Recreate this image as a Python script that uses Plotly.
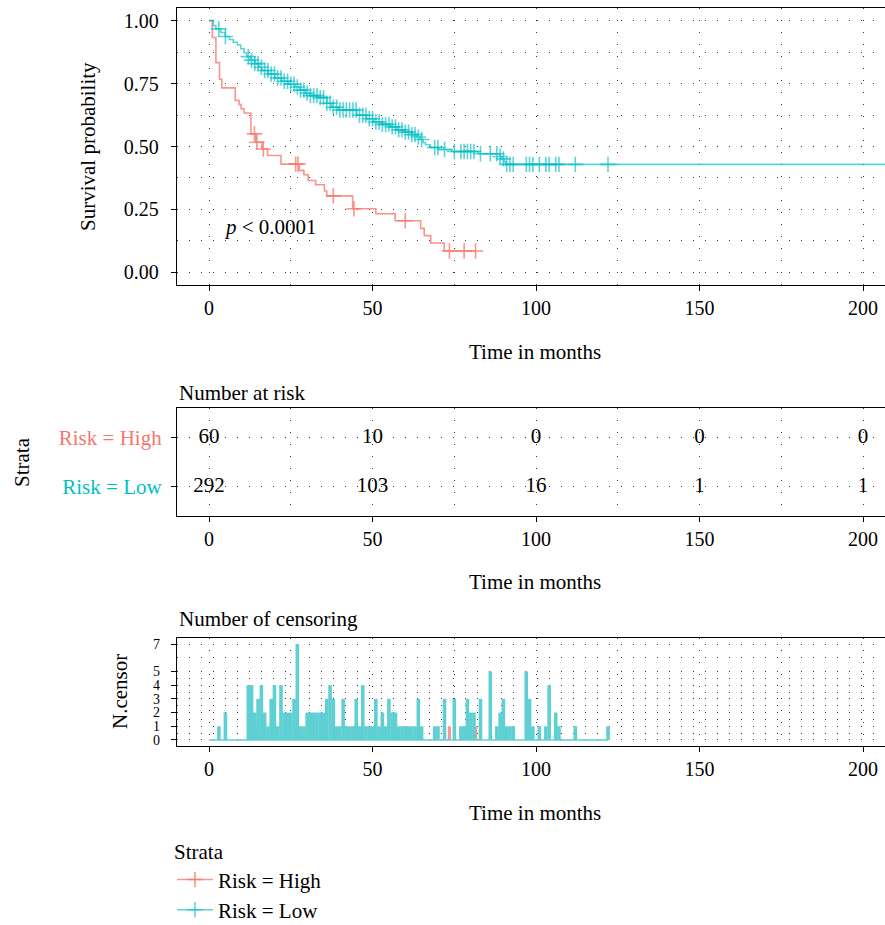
import plotly.graph_objects as go

# ---------------- data ----------------
RED = "#F8766D"
TEAL = "#00BFC4"
RED_A = "rgba(248,118,109,0.78)"
TEAL_A = "rgba(0,191,196,0.65)"
RED_BAR = "#F9968F"
TEAL_BAR = "#5ECFD2"

# Kaplan-Meier steps, Risk = High
high_step_time = [0, 1.0, 2.1, 3.2, 3.9, 8.0, 9.2, 9.8, 10.7, 12.8, 14.3, 16.2, 17.9, 22.0,
                  27.6, 29.0, 30.3, 32.6, 35.3, 36.0, 43.9, 51.0, 56.9, 64.7, 65.8, 67.8, 71.9]
high_step_surv = [1.0, 0.933, 0.833, 0.767, 0.733, 0.683, 0.667, 0.650, 0.633, 0.550, 0.517, 0.490,
                  0.464, 0.430, 0.405, 0.388, 0.365, 0.348, 0.323, 0.304, 0.253, 0.233, 0.205,
                  0.175, 0.146, 0.117, 0.085]
high_censor_time = [13.9, 14.6, 16.6, 26.5, 27.2, 38.0, 44.3, 60.0, 73.5, 78.0, 81.5]
high_censor_count = [1, 1, 1, 1, 1, 1, 1, 1, 1, 1, 1]

# Kaplan-Meier steps, Risk = Low
low_step_time = [0, 1.3, 2.1, 3.6, 4.9, 6.2, 7.4, 8.7, 9.7, 10.7, 11.5, 12.6, 14.0, 15.2, 16.1,
                 18.1, 20.2, 22.2, 24.3, 26.3, 27.8, 29.4, 30.9, 33.4, 36.0, 37.5, 39.5, 45.2,
                 48.2, 50.3, 52.8, 55.4, 57.4, 60.0, 62.0, 63.5, 64.5, 65.5, 66.2, 67.6, 70.1,
                 74.2, 82.4, 89.0, 89.5, 90.2, 90.8]
low_step_surv = [1.0, 0.980, 0.967, 0.953, 0.937, 0.925, 0.914, 0.903, 0.888, 0.872, 0.857, 0.843,
                 0.829, 0.815, 0.802, 0.788, 0.772, 0.759, 0.747, 0.736, 0.724, 0.712, 0.702,
                 0.694, 0.672, 0.656, 0.645, 0.624, 0.610, 0.597, 0.588, 0.578, 0.566, 0.557,
                 0.547, 0.538, 0.528, 0.515, 0.507, 0.496, 0.488, 0.480, 0.471, 0.460, 0.451,
                 0.440, 0.429]
low_censor_time = [3, 5, 12, 13, 14, 15, 16, 17, 18, 19, 20, 21, 22, 23, 24, 25, 26, 27, 28, 29,
                   30, 31, 32, 33, 34, 35, 36, 37, 38, 39, 40, 41, 42, 43, 44, 45, 46, 47, 48, 49,
                   50, 51, 52, 53, 54, 55, 56, 57, 58, 59, 60, 61, 62, 63, 64, 65, 69, 70, 72, 75,
                   77, 78, 79, 80, 81, 83, 86, 88, 89, 90, 91, 92, 93, 97, 98, 99, 101, 103, 104,
                   106, 107, 112, 122, 215]
low_censor_count = [1, 2, 4, 4, 2, 3, 4, 2, 1, 3, 4, 1, 4, 2, 2, 2, 3, 7, 1, 1,
                    2, 2, 2, 2, 2, 2, 3, 4, 3, 1, 1, 3, 1, 1, 1, 3, 1, 4, 1, 1,
                    1, 3, 1, 2, 1, 3, 2, 2, 1, 1, 1, 1, 1, 1, 3, 1, 1, 1, 3, 3,
                    1, 1, 3, 2, 2, 3, 5, 1, 2, 3, 1, 1, 1, 5, 3, 1, 1, 1, 4,
                    2, 1, 1, 1, 1]

risk_times = [0, 50, 100, 150, 200]
risk_high = [60, 10, 0, 0, 0]
risk_low = [292, 103, 16, 1, 1]

x_ticks = [0, 50, 100, 150, 200]
x_minor = [25, 75, 125, 175]
surv_ticks = [0, 0.25, 0.5, 0.75, 1.0]
surv_ticktext = ["0.00", "0.25", "0.50", "0.75", "1.00"]
surv_minor = [0.125, 0.375, 0.625, 0.875]
cens_ticks = [0, 1, 2, 3, 4, 5, 7]
cens_minor = [0.5, 1.5, 2.5, 3.5, 4.5, 6]

# ---------------- helpers ----------------
FONT = "Liberation Serif"
W, H = 885, 925


def surv_at(times, survs, t):
    s = survs[0]
    for tt, ss in zip(times, survs):
        if tt <= t:
            s = ss
        else:
            break
    return s


def px_x(p):
    return p / W


def px_y(p):
    return 1 - p / H


GRID = dict(showgrid=True, gridcolor="#3a3a3a", gridwidth=1.4, griddash="1.4px,10.6px")

fig = go.Figure()

# ---------------- survival curves ----------------
for times, survs, ctimes, col in [
    (high_step_time, high_step_surv, high_censor_time, RED_A),
    (low_step_time, low_step_surv, low_censor_time, TEAL_A),
]:
    end = max(ctimes)
    xs = list(times) + [end]
    ys = list(survs) + [survs[-1]]
    fig.add_trace(go.Scatter(x=xs, y=ys, mode="lines", line=dict(color=col, width=1.6, shape="hv"),
                             showlegend=False, hoverinfo="skip", xaxis="x", yaxis="y"))
    cy = [surv_at(times, survs, t) for t in ctimes]
    fig.add_trace(go.Scatter(x=ctimes, y=cy, mode="markers",
                             marker=dict(symbol="cross-thin", size=11, color=col,
                                         line=dict(color=col, width=1.6)),
                             showlegend=False, hoverinfo="skip", xaxis="x", yaxis="y"))

# legend entries
for col, name, grp in [(RED_A, "Risk = High", "h"), (TEAL_A, "Risk = Low", "l")]:
    fig.add_trace(go.Scatter(x=[None], y=[None], mode="lines+markers", name=name, legendgroup=grp,
                             line=dict(color=col, width=1.6),
                             marker=dict(symbol="cross-thin", size=11, color=col,
                                         line=dict(color=col, width=1.6)),
                             xaxis="x", yaxis="y"))

# ---------------- risk table ----------------
for vals, row in [(risk_high, 2), (risk_low, 1)]:
    fig.add_trace(go.Scatter(x=risk_times, y=[row] * len(risk_times), mode="text",
                             text=[str(v) for v in vals],
                             textfont=dict(family=FONT, size=21, color="black"),
                             showlegend=False, hoverinfo="skip", xaxis="x2", yaxis="y2"))

# ---------------- censoring ----------------
zero_end = max(t for t in low_censor_time if t < 206)
fig.add_trace(go.Scatter(x=[0, zero_end], y=[0, 0], mode="lines",
                         line=dict(color=TEAL_BAR, width=1.5), showlegend=False,
                         hoverinfo="skip", xaxis="x3", yaxis="y3"))
fig.add_trace(go.Bar(x=high_censor_time, y=high_censor_count, width=1.0,
                     marker=dict(color=RED_BAR, line=dict(width=0)), showlegend=False,
                     hoverinfo="skip", xaxis="x3", yaxis="y3"))
fig.add_trace(go.Bar(x=low_censor_time, y=low_censor_count, width=1.1,
                     marker=dict(color=TEAL_BAR, line=dict(width=0)), showlegend=False,
                     hoverinfo="skip", xaxis="x3", yaxis="y3"))

# ---------------- axes ----------------
xr = [-9.8, 206.7]
tickfont = dict(family=FONT, size=20, color="black")


def xaxis(anchor):
    return dict(domain=[px_x(177), 1.0], range=xr, anchor=anchor, tickvals=x_ticks,
                ticks="outside", ticklen=5, tickcolor="black", tickwidth=1.2,
                showline=True, linecolor="black", linewidth=1.3, mirror=True,
                zeroline=False, tickfont=tickfont,
                minor=dict(tickvals=x_minor, **GRID), **GRID)


fig.update_layout(
    width=W, height=H, margin=dict(l=0, r=0, t=0, b=0, autoexpand=False),
    paper_bgcolor="white", plot_bgcolor="white",
    font=dict(family=FONT, size=21, color="black"),
    barmode="overlay",
    xaxis=xaxis("y"),
    yaxis=dict(domain=[px_y(285), px_y(8)], range=[-0.05, 1.05], anchor="x",
               tickvals=surv_ticks, ticktext=surv_ticktext, ticks="outside", ticklen=5,
               tickcolor="black", tickwidth=1.2, showline=True, linecolor="black", linewidth=1.3,
               zeroline=False, tickfont=tickfont, ticklabelstandoff=8,
               minor=dict(tickvals=surv_minor, **GRID), **GRID),
    xaxis2=xaxis("y2"),
    yaxis2=dict(domain=[px_y(516), px_y(408)], range=[0.4, 2.6], anchor="x2",
                tickvals=[2, 1],
                ticktext=[f'<span style="color:{RED}">Risk = High</span>',
                          f'<span style="color:{TEAL}">Risk = Low</span>'],
                ticks="outside", ticklen=5, tickcolor="black", tickwidth=1.2,
                showline=True, linecolor="black", linewidth=1.3, zeroline=False,
                tickfont=dict(family=FONT, size=21), ticklabelstandoff=5, **GRID),
    xaxis3=xaxis("y3"),
    yaxis3=dict(domain=[px_y(746), px_y(638)], range=[-0.44, 7.44], anchor="x3",
                tickvals=cens_ticks, ticks="outside", ticklen=5, tickcolor="black", tickwidth=1.2,
                showline=True, linecolor="black", linewidth=1.3, zeroline=False,
                tickfont=dict(family=FONT, size=14, color="black"), ticklabelstandoff=8,
                minor=dict(tickvals=cens_minor, **GRID), **GRID),
    legend=dict(x=px_x(172), y=px_y(832), xanchor="left", yanchor="top",
                title=dict(text="Strata", font=dict(family=FONT, size=21)),
                font=dict(family=FONT, size=21), tracegroupgap=0, itemwidth=36,
                bgcolor="rgba(0,0,0,0)"),
)

ann = [
    dict(text="Survival probability", x=px_x(88), y=px_y(147), textangle=-90),
    dict(text="Time in months", x=px_x(535), y=px_y(352)),
    dict(text="Number at risk", x=px_x(177), y=px_y(393), xanchor="left"),
    dict(text="Strata", x=px_x(22), y=px_y(462), textangle=-90),
    dict(text="Time in months", x=px_x(535), y=px_y(582)),
    dict(text="Number of censoring", x=px_x(177), y=px_y(619), xanchor="left"),
    dict(text="N.censor", x=px_x(120), y=px_y(692), textangle=-90),
    dict(text="Time in months", x=px_x(535), y=px_y(813)),
]
for a in ann:
    a.setdefault("xanchor", "center")
    fig.add_annotation(xref="paper", yref="paper", yanchor="middle", showarrow=False,
                       font=dict(family=FONT, size=21, color="black"), **a)

fig.add_annotation(xref="x", yref="y", x=4, y=0.18, xanchor="left", yanchor="middle",
                   text="<i>p</i> < 0.0001", showarrow=False,
                   font=dict(family=FONT, size=21, color="black"))

fig.write_html("out.html")
